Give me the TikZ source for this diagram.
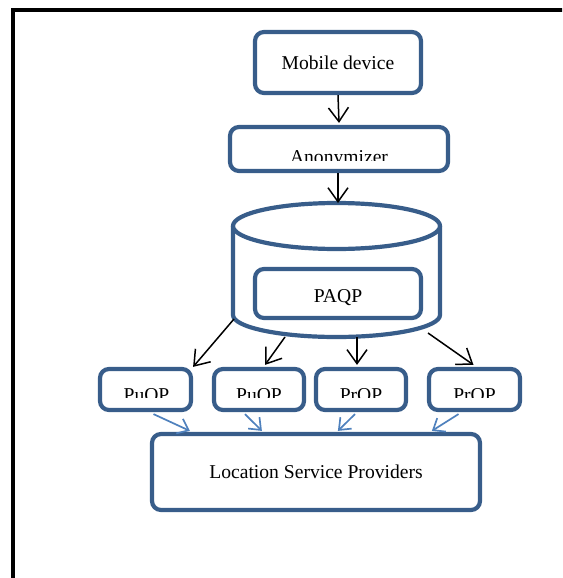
\documentclass[tikz,border=0pt]{standalone}
\usepackage{fontspec}
\setmainfont{Liberation Serif}
\usetikzlibrary{arrows.meta,calc}
\definecolor{boxblue}{HTML}{385D8A}
\definecolor{arrblue}{HTML}{4F81BD}
\begin{document}
\begin{tikzpicture}[x=1pt,y=-1pt,
 box/.style={draw=boxblue,line width=4.2pt,rounded corners=9pt,fill=white,inner sep=0pt},
 lbl/.style={anchor=base,inner sep=0pt,font=\fontsize{19.6}{21}\selectfont,text=black},
 blk/.style={-{Straight Barb[length=14pt,width=20pt]}, line width=1.5pt, black},
 blu/.style={-{Straight Barb[length=10pt,width=16pt]}, line width=1.7pt, arrblue},
 cyl/.style={draw=boxblue,line width=4.2pt}]
\useasboundingbox (0,0) rectangle (562,578);
\clip (0,0) rectangle (562,578);
% outer frame
\coordinate (fb) at (13,620);
\coordinate (fc) at (13,10);
\coordinate (fr) at (620,10);
\draw[line width=4pt,black] (fb) -- (fc) -- (fr);

% boxes
\node[box,minimum width=166pt,minimum height=61pt] (mob) at (338,62.5) {};
\node[box,minimum width=218pt,minimum height=44pt] (anon) at (339,149) {};
% cylinder
\coordinate (cyl) at (336.5,270);
\draw[cyl,fill=white] (233,226) -- (233,315) arc[start angle=180,end angle=0,x radius=103.5,y radius=22] -- (440,226);
\draw[cyl,fill=white] (336.5,226) ellipse[x radius=103.5,y radius=23];
\coordinate (ctop) at (338,203);
\node[box,minimum width=166pt,minimum height=49pt] (paqp) at (338,293.5) {};
\node[box,minimum width=91pt,minimum height=41pt] (b1) at (145.5,389.5) {};
\node[box,minimum width=90pt,minimum height=41pt] (b2) at (259,389.5) {};
\node[box,minimum width=90pt,minimum height=41pt] (b3) at (361,389.5) {};
\node[box,minimum width=91pt,minimum height=41pt] (b4) at (474.5,389.5) {};
\node[box,minimum width=328pt,minimum height=76pt] (lsp) at (316,472) {};

% labels
\node[lbl] (tmob) at (338,70) {Mobile device};
\begin{scope}
\clip (0,0) rectangle (562,160);
\node[lbl] (tanon) at (339,163) {Anonymizer};
\end{scope}
\node[lbl] (tpaqp) at (338,302) {PAQP};
\begin{scope}
\clip (0,0) rectangle (562,397);
\node[lbl] (t1) at (146.5,401) {PuQP};
\node[lbl] (t2) at (259,401) {PuQP};
\node[lbl] (t3) at (361,401) {PrQP};
\node[lbl] (t4) at (474.5,401) {PrQP};
\end{scope}
\node[lbl] (tlsp) at (316,478) {Location Service Providers};

% black arrows
\draw[blk] (mob.south) -- ([yshift=2pt]anon.north);
\draw[blk] ([xshift=-1pt]anon.south) -- (ctop);
\coordinate (s1) at (234,319);
\coordinate (s2) at (285,337);
\coordinate (s3) at (357,337);
\coordinate (s4) at (428,333);
\draw[blk] (s1) -- (b1.north east);
\draw[blk] (s2) -- ($(b2.north)+(6,-2)$);
\draw[blk] (s3) -- ($(b3.north)+(-4,-2)$);
\draw[blk] (s4) -- ($(b4.north)+(-1,-2)$);

% blue arrows
\draw[blu] ($(b1.south)+(8,2)$) -- ($(lsp.north west)+(40,-1)$);
\draw[blu] ($(b2.south)+(-14,2)$) -- ($(lsp.north west)+(112,-1)$);
\draw[blu] ($(b3.south)+(-6,2)$) -- ($(lsp.north west)+(188,-1)$);
\draw[blu] ($(b4.south)+(-16,2)$) -- ($(lsp.north west)+(282,-1)$);
\end{tikzpicture}
\end{document}
